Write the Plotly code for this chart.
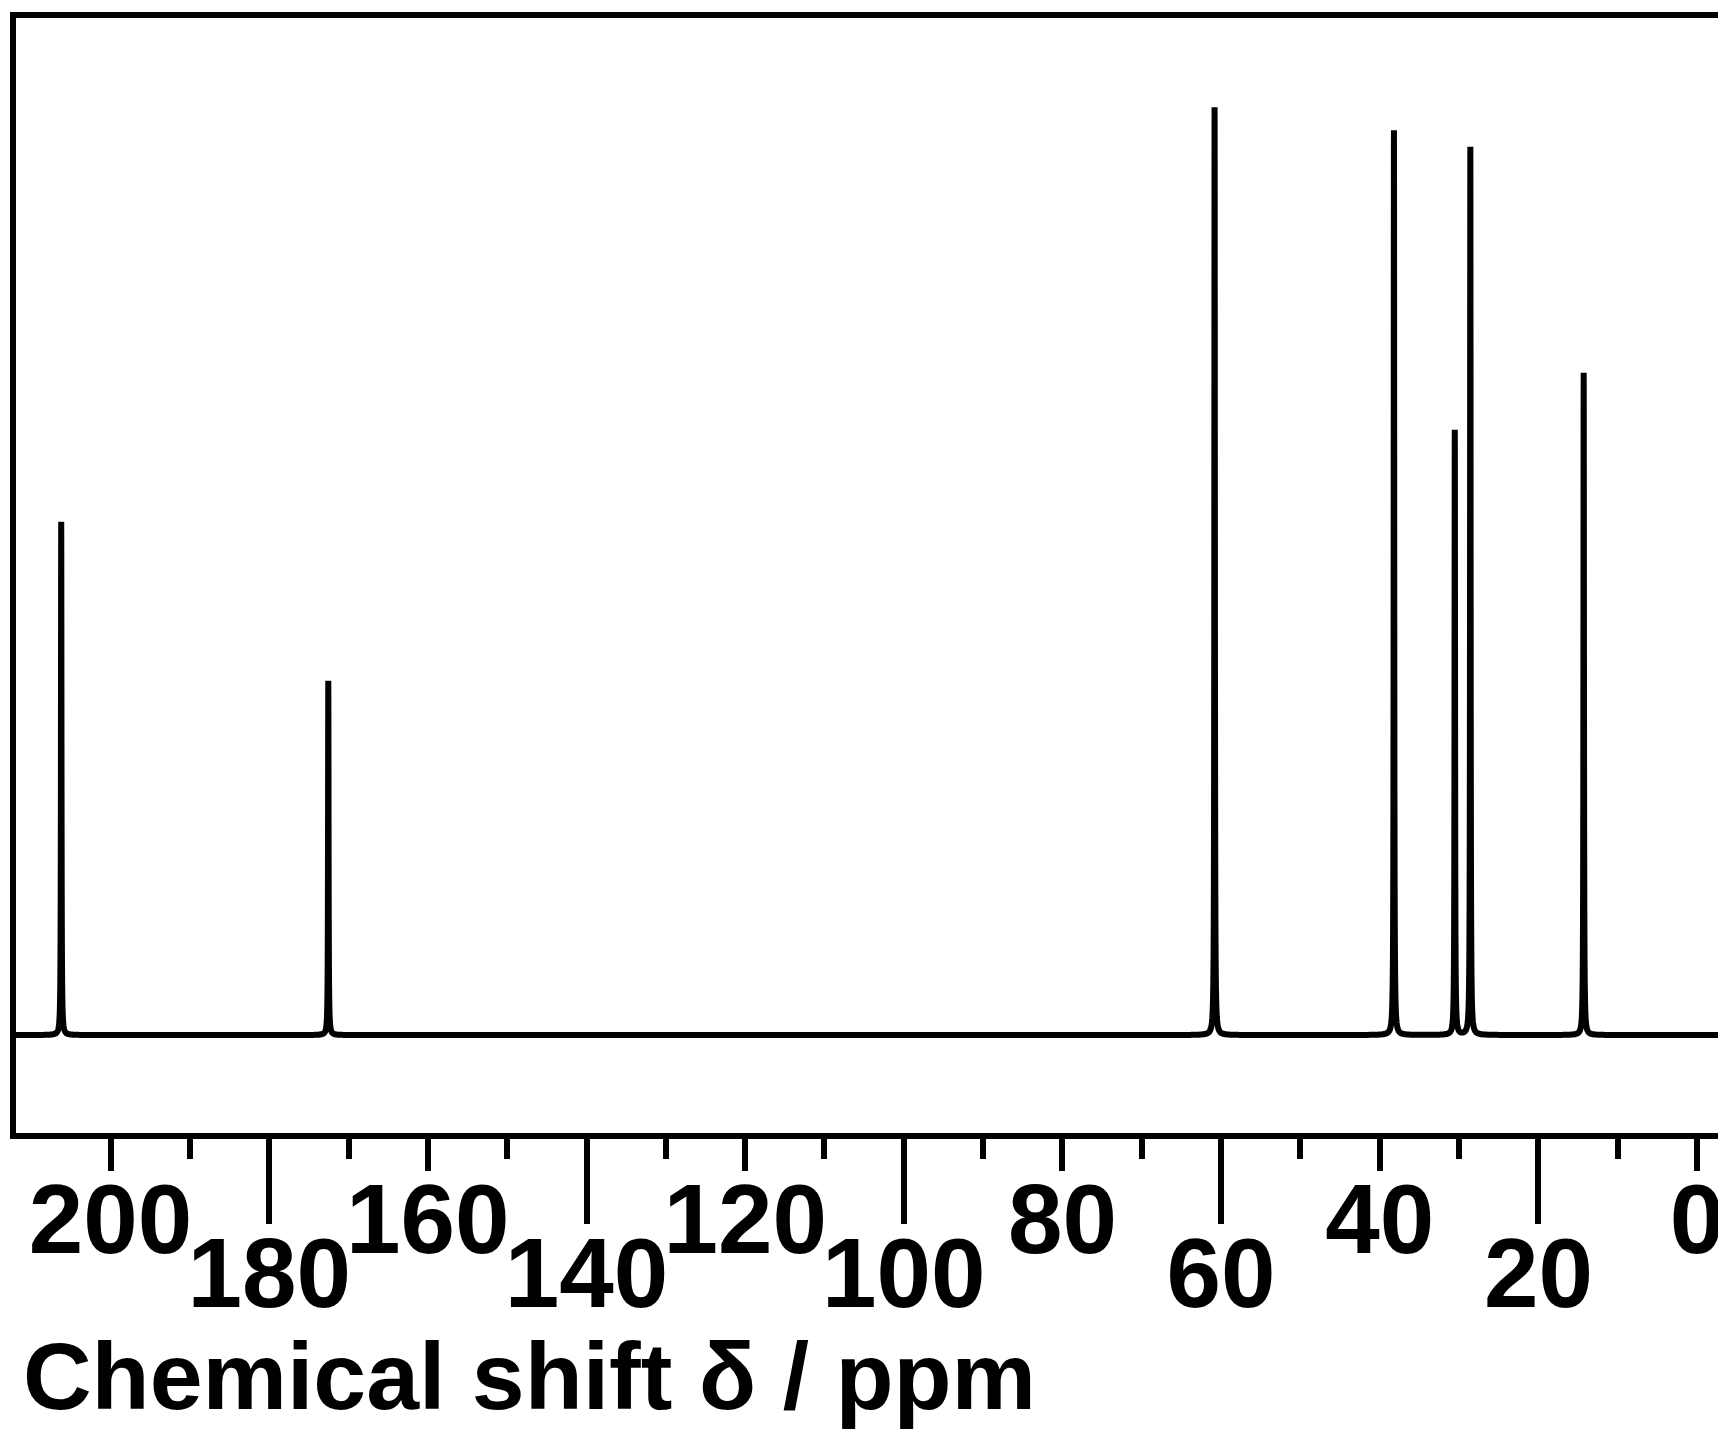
import numpy as np
import plotly.graph_objects as go

# Peak positions (ppm) and relative intensities
peak_shifts = [206.22, 172.55, 60.82, 38.21, 30.54, 28.58, 14.29]
peak_heights = [55.5, 38.3, 100.3, 97.8, 65.4, 96.0, 71.6]

upper_ticks = [200, 160, 120, 80, 40, 0]
lower_ticks = [180, 140, 100, 60, 20]
minor_ticks = [190, 170, 150, 130, 110, 90, 70, 50, 30, 10]

x_range = [211.92, -3.65]
y_range = [-10.59, 109.95]
hwhm = 0.04  # line half-width (ppm)

# build spectrum trace from the peak list (Lorentzian line shape)
grid = [np.linspace(x_range[0], x_range[1], 3000)]
for c in peak_shifts:
    grid.append(c + np.linspace(-1.5, 1.5, 601))
xs = np.unique(np.concatenate(grid))[::-1]
ys = np.zeros_like(xs)
for c, h in zip(peak_shifts, peak_heights):
    ys += h / (1.0 + ((xs - c) / hwhm) ** 2)

FONT = dict(family="Liberation Sans, Arial, sans-serif", size=98, color="black", weight="bold")
TITLE_FONT = dict(family="Liberation Sans, Arial, sans-serif", size=95, color="black", weight="bold")

fig = go.Figure()
fig.add_trace(go.Scatter(x=xs, y=ys, mode="lines",
                         line=dict(color="black", width=6, simplify=False),
                         hoverinfo="skip", showlegend=False))
# invisible trace on the second axis so it is rendered
fig.add_trace(go.Scatter(x=[x_range[0]], y=[0], xaxis="x2", mode="markers",
                         marker=dict(opacity=0), showlegend=False, hoverinfo="skip"))

fig.update_layout(
    width=1718, height=1423, autosize=False,
    margin=dict(l=8, r=0, t=10, b=298),
    paper_bgcolor="white", plot_bgcolor="white",
    xaxis=dict(range=x_range, showline=True, linewidth=6, linecolor="black",
               mirror=True, showgrid=False, zeroline=False,
               ticks="outside", tickmode="array", tickvals=upper_ticks,
               ticktext=[str(v) for v in upper_ticks],
               ticklen=32, tickwidth=6, tickcolor="black", tickfont=FONT,
               ticklabelstandoff=-36,
               minor=dict(tickmode="array", tickvals=minor_ticks, ticks="outside",
                          ticklen=20, tickwidth=6, tickcolor="black", showgrid=False)),
    xaxis2=dict(range=x_range, overlaying="x", anchor="y", side="bottom",
                showline=False, showgrid=False, zeroline=False,
                ticks="outside", tickmode="array", tickvals=lower_ticks,
                ticktext=[str(v) for v in lower_ticks],
                ticklen=90, tickwidth=6, tickcolor="black", tickfont=FONT,
                ticklabelstandoff=-35),
    yaxis=dict(range=y_range, showline=True, linewidth=6, linecolor="black",
               mirror=False, showgrid=False, zeroline=False,
               showticklabels=False, ticks=""),
    annotations=[dict(text="Chemical shift δ / ppm", xref="paper", yref="paper",
                      x=0.003, y=-0.169, xanchor="left", yanchor="top",
                      showarrow=False, font=TITLE_FONT)],
)

fig.write_html("out.html")
